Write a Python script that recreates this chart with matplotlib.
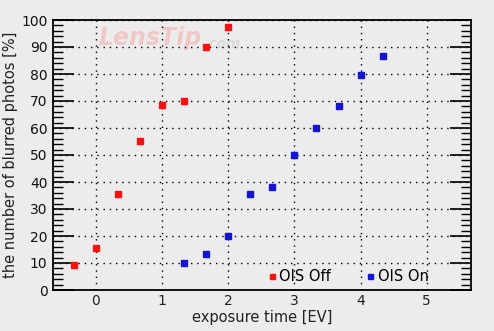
import matplotlib.pyplot as plt
from matplotlib.ticker import MultipleLocator

# exposure time steps [EV] and share of blurred photos [%]
ev_off = [-1/3, 0, 1/3, 2/3, 1, 4/3, 5/3, 2]
blur_off = [9.1, 15.4, 35.4, 55.1, 68.4, 69.9, 89.9, 97.3]

ev_on = [4/3, 5/3, 2, 7/3, 8/3, 3, 10/3, 11/3, 4, 13/3]
blur_on = [9.9, 13.2, 19.9, 35.4, 38.0, 49.9, 59.9, 68.0, 79.5, 86.5]

x_ticks = [0, 1, 2, 3, 4, 5]

bg = '#ececec'
fig = plt.figure(figsize=(4.94, 3.31), dpi=100, facecolor=bg)
ax = fig.add_axes([53/494, 41/331, 418/494, 270/331], facecolor=bg)

# faint site watermark behind the data
fig.text(0.2, 0.885, 'LensTip', fontsize=17, fontstyle='italic', fontweight='bold',
         color='#f0c8c8', va='center', zorder=0)
fig.text(0.412, 0.868, '.com', fontsize=10, fontstyle='italic', fontweight='bold',
         color='#dedada', va='center', zorder=0)
ax.set_zorder(1)
ax.patch.set_alpha(0)

ax.plot(ev_off, blur_off, 's', color='#ff1010', markersize=4, label='OIS Off')
ax.plot(ev_on, blur_on, 's', color='#1414d2', markersize=4, label='OIS On')

ax.set_xlim(-0.65, 5.67)
ax.set_ylim(0, 100)
ax.set_xticks(x_ticks)
ax.yaxis.set_major_locator(MultipleLocator(10))
ax.yaxis.set_minor_locator(MultipleLocator(2))
ax.tick_params(axis='x', length=0, pad=3, labelsize=10, colors='#222222')
ax.tick_params(axis='y', which='major', direction='in', length=15, width=1.3,
               right=True, labelsize=10, pad=4, colors='#111111')
ax.tick_params(axis='y', which='minor', direction='in', length=7, width=1.0,
               right=True)

ax.grid(True, which='major', color='black', linestyle=(0, (1, 3.5)), linewidth=1)
for s in ax.spines.values():
    s.set_linewidth(1.3)
    s.set_color('black')

ax.set_xlabel('exposure time [EV]', fontsize=10.5, color='#222222', labelpad=1)
ax.set_ylabel('the number of blurred photos [%]', fontsize=10.5, color='#222222',
              labelpad=2)

ax.legend(loc='lower right', ncol=2, frameon=False, fontsize=10.5,
          handlelength=0.4, handletextpad=0.3, columnspacing=2.5,
          markerscale=0.9, bbox_to_anchor=(0.93, -0.025))

fig.savefig('out.png', dpi=100, facecolor=bg)
